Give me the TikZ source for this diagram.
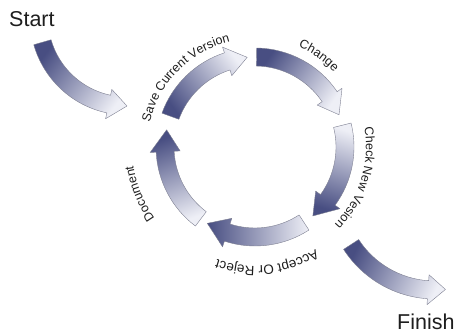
\documentclass[tikz,border=0pt]{standalone}
\usepackage{fontspec}
\setmainfont{Liberation Sans}
\usetikzlibrary{calc, decorations.text}

\definecolor{arrowdark}{RGB}{72,78,130}
\definecolor{arrowlight}{RGB}{238,239,246}
\definecolor{arrowedge}{RGB}{125,127,145}
\definecolor{labeltext}{RGB}{30,30,30}

% curved arrow: centre, radius, tail angle, tip angle, head length (deg), tail colour, head colour
\newcommand{\ringarrow}[7]{%
  \pgfmathsetmacro{\hb}{#4+((#3>#4) ? #5 : -#5)}%
  \pgfmathsetmacro{\sa}{atan2(sin(#4)-sin(#3), cos(#4)-cos(#3))-90}%
  \pgfmathsetmacro{\ro}{#2+9}\pgfmathsetmacro{\ri}{#2-9}%
  \pgfmathsetmacro{\ho}{#2+15}\pgfmathsetmacro{\hi}{#2-15}%
  \path[arrowbody, bottom color=#6, top color=#7, shading angle=\sa]
    ($(#1)+(#3:\ro pt)$) arc[start angle=#3, end angle=\hb, radius=\ro pt]
    -- ($(#1)+(\hb:\ho pt)$) -- ($(#1)+(#4:#2 pt)$) -- ($(#1)+(\hb:\hi pt)$)
    -- ($(#1)+(\hb:\ri pt)$) arc[start angle=\hb, end angle=#3, radius=\ri pt] -- cycle;}

% text bent round the ring: centre, radius, middle angle, font size, text
\newcommand{\ringlabel}[5]{%
  \pgfmathsetmacro{\la}{#3+50}\pgfmathsetmacro{\lb}{#3-50}%
  \path[decorate, decoration={text along path, text={|\fontsize{#4}{15}\selectfont|#5}, text align=center, text color=labeltext}]
    ($(#1)+(\la:#2 pt)$) arc[start angle=\la, end angle=\lb, radius=#2 pt];}

\begin{document}
\begin{tikzpicture}[x=1pt, y=1pt,
    arrowbody/.style={shade, draw=arrowedge, line width=0.4pt, line join=round},
    bigtext/.style={anchor=base west, inner sep=0pt, text=labeltext, font=\fontsize{21.5}{26}\selectfont}
]
\useasboundingbox (0,0) rectangle (459,334);
\coordinate (ring) at (255,187);
\coordinate (startc) at (127,316);
\coordinate (finishc) at (435,144);

\node[bigtext] (start) at (9,307) {Start};
\node[bigtext] (finish) at (397,4) {Finish};

% entry and exit
\ringarrow{startc}{88}{196}{270}{12}{arrowdark}{arrowlight}
\ringarrow{finishc}{100}{213}{276}{10}{arrowdark}{arrowlight}

% the cycle
\ringarrow{ring}{90}{160}{95}{13}{arrowdark}{arrowlight}
\ringarrow{ring}{90}{89}{21}{13}{arrowdark}{arrowlight}
\ringarrow{ring}{90}{14}{-50}{14}{arrowlight}{arrowdark}
\ringarrow{ring}{90}{-57}{-122}{14}{arrowlight}{arrowdark}
\ringarrow{ring}{90}{-127}{-191}{14}{arrowlight}{arrowdark}

\ringlabel{ring}{108}{135}{12.5}{Save Current Version}
\ringlabel{ring}{109}{55}{12.5}{Change}
\ringlabel{ring}{111}{-17}{12.5}{Check New Vesion}
\ringlabel{ring}{119}{-84}{13.5}{Accept Or Reject}
\ringlabel{ring}{123}{202}{12.5}{Document}
\end{tikzpicture}
\end{document}
